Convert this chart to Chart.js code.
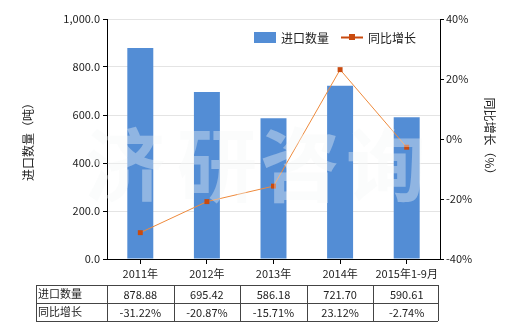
<!DOCTYPE html>
<html>
<head>
<meta charset="utf-8">
<script src="https://cdn.jsdelivr.net/npm/chart.js@4/dist/chart.umd.min.js"></script>
<style>
  html, body { margin: 0; padding: 0; background: #fff; }
</style>
</head>
<body>
<canvas id="chart" width="520" height="330"></canvas>
<script>
var categories = ['2011年', '2012年', '2013年', '2014年', '2015年1-9月'];
var importQty = [878.88, 695.42, 586.18, 721.70, 590.61];
var yoyGrowth = [-31.22, -20.87, -15.71, 23.12, -2.74];
var qtyLabels = ['878.88', '695.42', '586.18', '721.70', '590.61'];
var yoyLabels = ['-31.22%', '-20.87%', '-15.71%', '23.12%', '-2.74%'];

var FONT = "'Noto Sans CJK SC', 'Liberation Sans', sans-serif";
var barColor = '#538DD5';
var lineColor = '#EE8A3C';
var markColor = '#C94A0E';

// faint watermark over the plot
var watermark = {
    id: 'watermark',
    afterDatasetsDraw: function(chart) {
        var ctx = chart.ctx;
        ctx.save();
        ctx.font = 'bold 80px ' + FONT;
        ctx.fillStyle = 'rgba(244, 247, 247, 0.38)';
        ctx.textAlign = 'center';
        ctx.textBaseline = 'middle';
        var chars = ['济', '研', '咨', '询'];
        var xs = [125, 217, 300, 386];
        chars.forEach(function(c, i) {
            ctx.fillText(c, xs[i], 165);
        });
        ctx.restore();
    }
};

var extras = {
    id: 'extras',
    afterDraw: function(chart) {
        var ctx = chart.ctx;
        var area = chart.chartArea;
        var xs = chart.scales.x;
        ctx.save();

        // axis titles
        ctx.font = '12px ' + FONT;
        ctx.fillStyle = '#222';
        ctx.textAlign = 'center';
        ctx.textBaseline = 'middle';
        var midY = (area.top + area.bottom) / 2;
        ctx.save();
        ctx.translate(28, midY);
        ctx.rotate(-Math.PI / 2);
        ctx.fillText('进口数量（吨）', 0, 0);
        ctx.restore();
        ctx.save();
        ctx.translate(490, midY);
        ctx.rotate(Math.PI / 2);
        ctx.fillText('同比增长（%）', 0, 0);
        ctx.restore();

        // legend
        ctx.font = '12px ' + FONT;
        ctx.textAlign = 'left';
        ctx.fillStyle = barColor;
        ctx.fillRect(254, 32, 22, 11);
        ctx.fillStyle = '#222';
        ctx.fillText('进口数量', 281, 38);
        ctx.strokeStyle = markColor;
        ctx.lineWidth = 2;
        ctx.beginPath();
        ctx.moveTo(341, 37.5);
        ctx.lineTo(363, 37.5);
        ctx.stroke();
        ctx.fillStyle = markColor;
        ctx.fillRect(349, 34, 6, 6);
        ctx.fillStyle = '#222';
        ctx.fillText('同比增长', 368, 38);

        // data table
        var left = 36, right = area.right - 2;
        var top = 285, mid = 303, bottom = 321;
        var step = xs.getPixelForTick(1) - xs.getPixelForTick(0);
        ctx.strokeStyle = '#444';
        ctx.lineWidth = 1;
        ctx.beginPath();
        [top, mid, bottom].forEach(function(y) {
            ctx.moveTo(left, y + 0.5);
            ctx.lineTo(right, y + 0.5);
        });
        ctx.moveTo(left + 0.5, top);
        ctx.lineTo(left + 0.5, bottom);
        for (var i = 0; i < categories.length; i++) {
            var bx = Math.round(xs.getPixelForTick(i) - step / 2) + 0.5;
            ctx.moveTo(bx, top);
            ctx.lineTo(bx, bottom);
        }
        ctx.moveTo(right + 0.5, top);
        ctx.lineTo(right + 0.5, bottom);
        ctx.stroke();

        ctx.font = '11px ' + FONT;
        ctx.fillStyle = '#222';
        ctx.textAlign = 'left';
        ctx.fillText('进口数量', 38, 294);
        ctx.fillText('同比增长', 38, 312);
        ctx.textAlign = 'center';
        for (var j = 0; j < categories.length; j++) {
            var cx = xs.getPixelForTick(j);
            ctx.fillText(qtyLabels[j], cx, 295);
            ctx.fillText(yoyLabels[j], cx, 313);
        }
        ctx.restore();
    }
};

var ctx = document.getElementById('chart').getContext('2d');
new Chart(ctx, {
    data: {
        labels: categories,
        datasets: [{
            type: 'bar',
            label: '进口数量',
            data: importQty,
            backgroundColor: barColor,
            yAxisID: 'y',
            barPercentage: 0.78,
            categoryPercentage: 0.5,
            order: 1
        }, {
            type: 'line',
            label: '同比增长',
            data: yoyGrowth,
            borderColor: lineColor,
            borderWidth: 1,
            pointStyle: 'rect',
            pointRadius: 3.5,
            pointBackgroundColor: markColor,
            pointBorderColor: markColor,
            pointBorderWidth: 0,
            tension: 0,
            yAxisID: 'y1',
            order: 0
        }]
    },
    options: {
        responsive: false,
        animation: false,
        devicePixelRatio: 1,
        layout: { padding: { left: 0, right: 0, top: 19, bottom: 0 } },
        plugins: {
            legend: { display: false },
            tooltip: { enabled: false }
        },
        scales: {
            x: {
                offset: true,
                grid: { drawOnChartArea: false, offset: false, tickColor: '#000', tickLength: 5 },
                border: { color: '#000', width: 1 },
                ticks: { color: '#222', font: { family: FONT, size: 11 }, padding: 3, maxRotation: 0 },
                afterFit: function(s) { s.height = 71; }
            },
            y: {
                position: 'left',
                min: 0,
                max: 1000,
                ticks: {
                    stepSize: 200,
                    color: '#222',
                    font: { family: FONT, size: 11 },
                    padding: 3,
                    callback: function(v) {
                        return v.toLocaleString('en-US', { minimumFractionDigits: 1, maximumFractionDigits: 1 });
                    }
                },
                grid: { color: '#e4e4e4', tickColor: '#000', tickLength: 4 },
                border: { color: '#000', width: 1 },
                afterFit: function(s) { s.width = 107; }
            },
            y1: {
                position: 'right',
                min: -40,
                max: 40,
                ticks: {
                    stepSize: 20,
                    color: '#222',
                    font: { family: FONT, size: 11 },
                    padding: 2,
                    callback: function(v) { return v + '%'; }
                },
                grid: { drawOnChartArea: false, tickColor: '#000', tickLength: 4 },
                border: { color: '#000', width: 1 },
                afterFit: function(s) { s.width = 80; }
            }
        }
    },
    plugins: [watermark, extras]
});
</script>
</body>
</html>
